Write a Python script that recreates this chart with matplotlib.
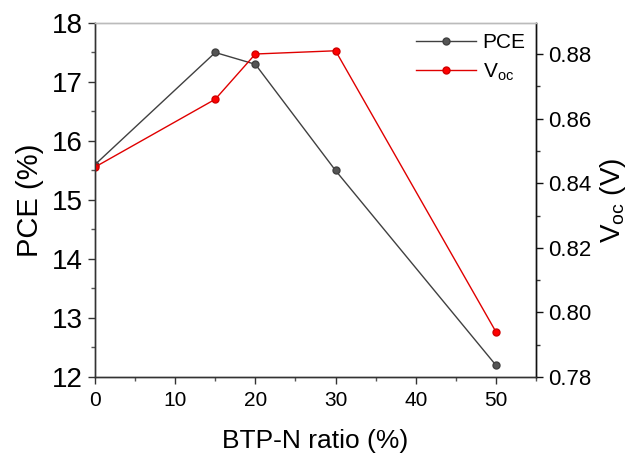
import matplotlib
matplotlib.use("Agg")
from matplotlib import pyplot as plt
from matplotlib.ticker import MultipleLocator

# data
ratio = [0, 15, 20, 30, 50]
pce = [15.6, 17.5, 17.3, 15.5, 12.2]
voc = [0.845, 0.866, 0.880, 0.881, 0.794]

plt.rcParams['font.family'] = ['Liberation Sans', 'DejaVu Sans']

fig = plt.figure(figsize=(6.34, 4.61), dpi=100)
ax = fig.add_axes([95 / 634, 1 - 377 / 461, (536 - 95) / 634, (377 - 23) / 461])
ax2 = ax.twinx()

l1, = ax.plot(ratio, pce, color='#404040', lw=1, marker='o', ms=5,
              mfc='#555555', mec='#404040', label='PCE')
l2, = ax2.plot(ratio, voc, color='#e00000', lw=1, marker='o', ms=5,
               mfc='#ff0000', mec='#d00000', label='V$_{\\mathregular{oc}}$')

ax.set_xlim(0, 55)
ax.set_ylim(12, 18)
ax2.set_ylim(0.78, 0.8896)

ax.xaxis.set_major_locator(MultipleLocator(10))
ax.xaxis.set_minor_locator(MultipleLocator(5))
ax.yaxis.set_major_locator(MultipleLocator(1))
ax.yaxis.set_minor_locator(MultipleLocator(0.5))
ax2.yaxis.set_major_locator(MultipleLocator(0.02))
ax2.yaxis.set_minor_locator(MultipleLocator(0.01))
ax2.yaxis.set_major_formatter(matplotlib.ticker.FormatStrFormatter('%.2f'))

for a in (ax, ax2):
    for s in a.spines.values():
        s.set_linewidth(1)
    a.spines['top'].set_color('#bbbbbb')
    a.spines['left'].set_color('#333333')
    a.spines['bottom'].set_color('#333333')
    a.spines['right'].set_color('#111111')

ax.tick_params(axis='x', which='major', length=5, width=1, colors='#333333', labelsize=15, labelcolor='black', pad=5)
ax.tick_params(axis='x', which='minor', length=3, width=1, colors='#555555')
ax.tick_params(axis='y', which='major', length=5, width=1, colors='#333333', labelsize=20, labelcolor='black')
ax.tick_params(axis='y', which='minor', length=3, width=1, colors='#555555')
ax2.tick_params(axis='y', which='major', length=5, width=1, colors='#111111', labelsize=16, labelcolor='black')
ax2.tick_params(axis='y', which='minor', length=3, width=1, colors='#333333')

ax.set_xlabel('BTP-N ratio (%)', fontsize=19, labelpad=14)
ax.set_ylabel('PCE (%)', fontsize=21, labelpad=6)
ax2.set_ylabel('V$_{\\mathregular{oc}}$ (V)', fontsize=20, labelpad=5)

ax2.legend([l1, l2], ['PCE', 'V$_{\\mathregular{oc}}$'], loc='upper right',
           frameon=False, fontsize=15, handlelength=2.9, handletextpad=0.3,
           labelspacing=0.45, borderaxespad=0.1)

plt.savefig('out.png', dpi=100)
